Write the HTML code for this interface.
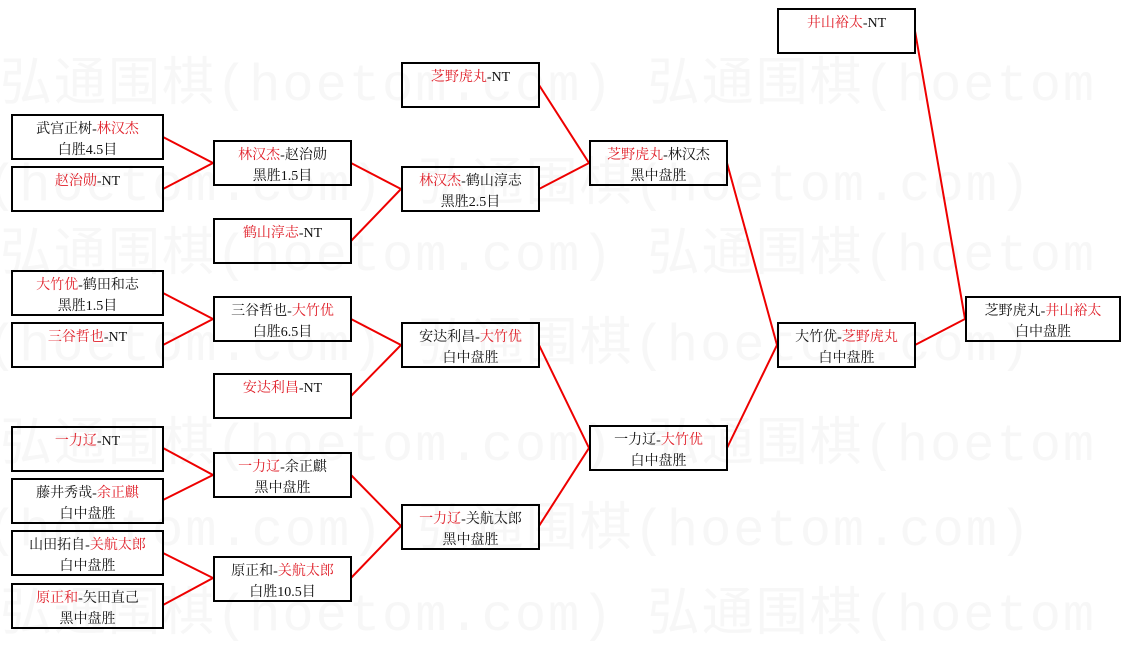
<!DOCTYPE html>
<html><head><meta charset="utf-8"><style>
body{margin:0;width:1130px;height:637px;background:#fff;position:relative;overflow:hidden;font-family:"Liberation Serif","Noto Serif CJK SC","Noto Sans CJK SC",serif;}
.wm{position:absolute;left:0;font-size:52px;color:#f7f7f7;white-space:nowrap;font-family:"Liberation Mono","Noto Sans CJK SC",monospace;letter-spacing:2px;}
.b{position:absolute;box-sizing:border-box;border:2px solid #000;background:transparent;font-size:14px;line-height:21px;text-align:center;padding-top:3px;color:#111;}
.r{color:#e0202a;}
svg{position:absolute;left:0;top:0;}
</style></head><body>
<div class="wm" style="top:40px">弘通围棋(hoetom.com) 弘通围棋(hoetom</div>
<div class="wm" style="top:140px;left:-230px">弘通围棋(hoetom.com) 弘通围棋(hoetom.com)</div>
<div class="wm" style="top:210px">弘通围棋(hoetom.com) 弘通围棋(hoetom</div>
<div class="wm" style="top:300px;left:-230px">弘通围棋(hoetom.com) 弘通围棋(hoetom.com)</div>
<div class="wm" style="top:400px">弘通围棋(hoetom.com) 弘通围棋(hoetom</div>
<div class="wm" style="top:485px;left:-230px">弘通围棋(hoetom.com) 弘通围棋(hoetom.com)</div>
<div class="wm" style="top:570px">弘通围棋(hoetom.com) 弘通围棋(hoetom</div>
<svg width="1130" height="637"><g stroke="#e00" stroke-width="2" fill="none">
<polyline points="163,137 213,163 163,189"/>
<polyline points="163,293 213,319 163,345"/>
<polyline points="163,448 213,475 163,500"/>
<polyline points="163,553 213,578 163,605"/>
<polyline points="351,163 401,189 351,241"/>
<polyline points="351,319 401,345 351,396"/>
<polyline points="351,475 401,526 351,578"/>
<polyline points="539,85 589,163 539,189"/>
<polyline points="539,345 589,448 539,526"/>
<polyline points="727,163 777,345 727,448"/>
<polyline points="915,31 965,319 915,345"/>
</g></svg>
<div class="b" style="left:11px;top:114px;width:153px;height:46px">武宫正树-<span class="r">林汉杰</span><br>白胜4.5目</div>
<div class="b" style="left:11px;top:166px;width:153px;height:46px"><span class="r">赵治勋</span>-NT</div>
<div class="b" style="left:11px;top:270px;width:153px;height:46px"><span class="r">大竹优</span>-鹤田和志<br>黑胜1.5目</div>
<div class="b" style="left:11px;top:322px;width:153px;height:46px"><span class="r">三谷哲也</span>-NT</div>
<div class="b" style="left:11px;top:426px;width:153px;height:46px"><span class="r">一力辽</span>-NT</div>
<div class="b" style="left:11px;top:478px;width:153px;height:46px">藤井秀哉-<span class="r">余正麒</span><br>白中盘胜</div>
<div class="b" style="left:11px;top:530px;width:153px;height:46px">山田拓自-<span class="r">关航太郎</span><br>白中盘胜</div>
<div class="b" style="left:11px;top:583px;width:153px;height:46px"><span class="r">原正和</span>-矢田直己<br>黑中盘胜</div>

<div class="b" style="left:213px;top:140px;width:139px;height:46px"><span class="r">林汉杰</span>-赵治勋<br>黑胜1.5目</div>
<div class="b" style="left:213px;top:218px;width:139px;height:46px"><span class="r">鹤山淳志</span>-NT</div>
<div class="b" style="left:213px;top:296px;width:139px;height:46px">三谷哲也-<span class="r">大竹优</span><br>白胜6.5目</div>
<div class="b" style="left:213px;top:373px;width:139px;height:46px"><span class="r">安达利昌</span>-NT</div>
<div class="b" style="left:213px;top:452px;width:139px;height:46px"><span class="r">一力辽</span>-余正麒<br>黑中盘胜</div>
<div class="b" style="left:213px;top:556px;width:139px;height:46px">原正和-<span class="r">关航太郎</span><br>白胜10.5目</div>

<div class="b" style="left:401px;top:62px;width:139px;height:46px"><span class="r">芝野虎丸</span>-NT</div>
<div class="b" style="left:401px;top:166px;width:139px;height:46px"><span class="r">林汉杰</span>-鹤山淳志<br>黑胜2.5目</div>
<div class="b" style="left:401px;top:322px;width:139px;height:46px">安达利昌-<span class="r">大竹优</span><br>白中盘胜</div>
<div class="b" style="left:401px;top:504px;width:139px;height:46px"><span class="r">一力辽</span>-关航太郎<br>黑中盘胜</div>

<div class="b" style="left:589px;top:140px;width:139px;height:46px"><span class="r">芝野虎丸</span>-林汉杰<br>黑中盘胜</div>
<div class="b" style="left:589px;top:425px;width:139px;height:46px">一力辽-<span class="r">大竹优</span><br>白中盘胜</div>

<div class="b" style="left:777px;top:8px;width:139px;height:46px"><span class="r">井山裕太</span>-NT</div>
<div class="b" style="left:777px;top:322px;width:139px;height:46px">大竹优-<span class="r">芝野虎丸</span><br>白中盘胜</div>

<div class="b" style="left:965px;top:296px;width:156px;height:46px">芝野虎丸-<span class="r">井山裕太</span><br>白中盘胜</div>
</body></html>
